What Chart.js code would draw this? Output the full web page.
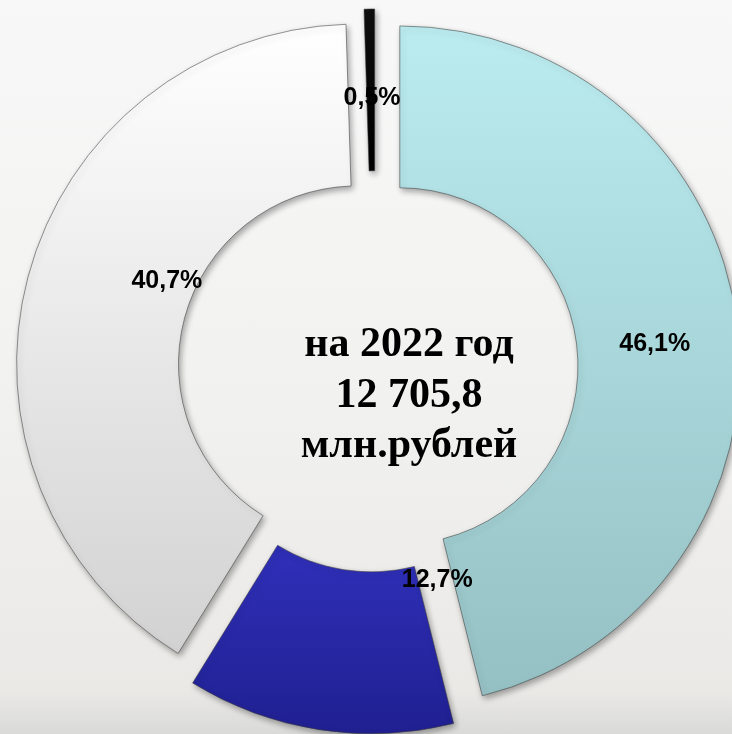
<!DOCTYPE html>
<html>
<head>
<meta charset="utf-8">
<script src="https://cdn.jsdelivr.net/npm/chart.js@4"></script>
<style>
  html, body { margin: 0; padding: 0; }
  body {
    width: 732px; height: 734px; overflow: hidden;
    background: linear-gradient(to bottom, #f8f8f8 0%, #f2f2f1 50%, #eae9e6 94%, #dadad9 100%);
  }
  #wrap { position: relative; width: 732px; height: 734px; }
</style>
</head>
<body>
<div id="wrap"><canvas id="chart"></canvas></div>
<script>
const categories = ['Доля 1', 'Доля 2', 'Доля 3', 'Доля 4'];
const shares = [46.1, 12.7, 40.7, 0.5];
const centerLines = ['на 2022 год', '12 705,8', 'млн.рублей'];

// colours, top -> bottom of each slice
const sliceTop = ['#bbecf0', '#2e2eb6', '#ffffff', '#111111'];
const sliceBottom = ['#95c0c3', '#1e1e8c', '#d2d2d2', '#000000'];
const gradY = [[30, 700], [540, 730], [30, 660], [10, 180]];
const sliceOffset = [100, 100, 76, 80];
// label spot: fraction along the arc, fraction across the ring
const labelAt = [[0.513, 0.48], [-0.12, 0.12], [0.56, 0.18], [0.67, 0.45]];

function fmt(v) {
  return v.toFixed(1).replace('.', ',') + '%';
}

function sliceFill(ctx) {
  const i = ctx.dataIndex;
  const g = ctx.chart.ctx.createLinearGradient(0, gradY[i][0], 0, gradY[i][1]);
  g.addColorStop(0, sliceTop[i]);
  g.addColorStop(1, sliceBottom[i]);
  return g;
}

const decor = {
  id: 'decor',
  afterDatasetsUpdate(chart) {
    // exploded slices: keep same radius and full angular width
    const meta = chart.getDatasetMeta(0);
    const ctrl = meta.controller;
    meta.data.forEach(arc => {
      const t = (arc.options.offset || 0) / 4;
      const fix = 1 - Math.sin(Math.min(Math.PI, arc.circumference));
      const ro = t * fix;
      arc.outerRadius = ctrl.outerRadius - ro;
      arc.innerRadius = ctrl.innerRadius - ro;
      arc.$a0 = arc.startAngle;
      arc.$a1 = arc.endAngle;
      const widen = ro / Math.PI / ctrl.outerRadius / 2;
      arc.startAngle -= widen;
      arc.endAngle += widen;
    });
  },
  beforeDatasetsDraw(chart) {
    const c = chart.ctx;
    c.save();
    c.shadowColor = 'rgba(0,0,0,0.35)';
    c.shadowBlur = 6;
    c.shadowOffsetX = 2;
    c.shadowOffsetY = 3;
  },
  afterDatasetsDraw(chart) {
    const c = chart.ctx;
    c.restore();
    const meta = chart.getDatasetMeta(0);
    const ctrl = meta.controller;
    const rIn = ctrl.innerRadius, rOut = ctrl.outerRadius;

    c.save();
    c.fillStyle = '#000';
    c.font = 'bold 25px "Liberation Sans", Arial, sans-serif';
    c.textAlign = 'center';
    c.textBaseline = 'middle';
    meta.data.forEach((arc, i) => {
      const mid = (arc.$a0 + arc.$a1) / 2;
      const t = (arc.options.offset || 0) / 4;
      const ox = arc.x + Math.cos(mid) * t;
      const oy = arc.y + Math.sin(mid) * t;
      const a = arc.$a0 + (arc.$a1 - arc.$a0) * labelAt[i][0];
      const r = rIn + (rOut - rIn) * labelAt[i][1];
      c.fillText(fmt(shares[i]), ox + Math.cos(a) * r, oy + Math.sin(a) * r);
    });

    const area = chart.chartArea;
    const cx = (area.left + area.right) / 2;
    const cy = (area.top + area.bottom) / 2;
    c.font = 'bold 42px "Liberation Serif", "Times New Roman", serif';
    c.textBaseline = 'alphabetic';
    centerLines.forEach((line, i) => {
      c.fillText(line, cx + 34, cy - 13 + i * 50.5);
    });
    c.restore();
  }
};

new Chart(document.getElementById('chart'), {
  type: 'doughnut',
  data: {
    labels: categories,
    datasets: [{
      data: shares,
      backgroundColor: sliceFill,
      borderColor: 'rgba(60,60,60,0.55)',
      borderWidth: 1,
      offset: sliceOffset,
      clip: false
    }]
  },
  options: {
    responsive: true,
    maintainAspectRatio: false,
    animation: false,
    events: [],
    radius: 340,
    cutout: '52.4%',
    layout: { padding: { left: 18, top: 4, right: 0, bottom: 0 } },
    plugins: {
      legend: { display: false },
      tooltip: { enabled: false }
    }
  },
  plugins: [decor]
});
</script>
</body>
</html>
